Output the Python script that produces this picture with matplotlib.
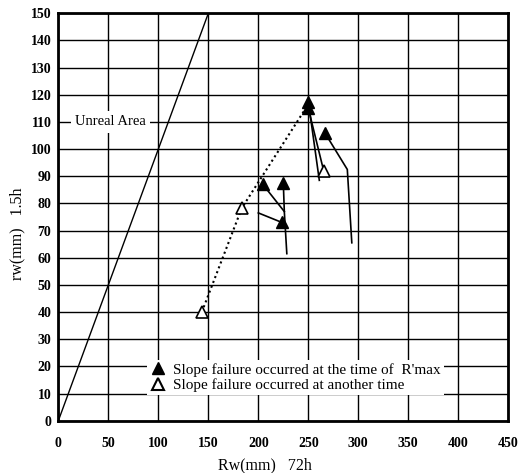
import matplotlib
matplotlib.use("Agg")
import matplotlib.pyplot as plt
from matplotlib.lines import Line2D

plt.rcParams['font.family'] = ['Liberation Serif', 'DejaVu Serif']

# Trajectories (Rw 72h, rw 1.5h); last point carries the marker
traj_a_x = [200.0, 223.5]
traj_a_y = [76.5, 73.0]
traj_b_x = [228.5, 226.0, 225.0]
traj_b_y = [61.5, 77.0, 87.5]
traj_c_x = [226.0, 204.5]
traj_c_y = [77.0, 87.0]
traj_d_x = [261.0, 250.0]
traj_d_y = [88.5, 117.5]
traj_e_x = [293.5, 289.0, 266.5]
traj_e_y = [65.5, 92.5, 106.0]
traj_f_x = [265.5, 250.0]
traj_f_y = [91.8, 115.0]

# dotted line through hollow triangles
dot_x = [143.5, 183.5, 250.0]
dot_y = [40.0, 78.3, 116.5]

filled_x = [223.5, 225.0, 204.5, 250.0, 266.5, 250.0]
filled_y = [73.0, 87.5, 87.0, 117.5, 106.0, 115.0]
hollow_x = [143.5, 183.5, 265.5]
hollow_y = [40.0, 78.3, 91.8]

diag_x = [0, 150]
diag_y = [0, 150]

xticks = [0, 50, 100, 150, 200, 250, 300, 350, 400, 450]
yticks = list(range(0, 151, 10))

fig = plt.figure(figsize=(5.21, 4.73), dpi=100)
ax = fig.add_axes([0.112, 0.1106, 0.8636, 0.8613])
ax.set_xlim(0, 450)
ax.set_ylim(0, 150)
ax.set_xticks(xticks)
ax.set_yticks(yticks)
ax.tick_params(length=0, labelsize=10)
ax.tick_params(axis='x', pad=12)
ax.tick_params(axis='y', pad=5)
for lab in ax.get_xticklabels() + ax.get_yticklabels():
    lab.set_fontweight('bold')
ax.grid(True, color='black', linewidth=1.0)
ax.set_axisbelow(True)
for s in ax.spines.values():
    s.set_linewidth(2.0)

ax.plot(diag_x, diag_y, color='black', linewidth=1.0, zorder=3)
ax.plot(dot_x, dot_y, color='black', linestyle=(0, (1, 1.5)), linewidth=1.5, zorder=3)
for xs, ys in [(traj_a_x, traj_a_y), (traj_b_x, traj_b_y), (traj_c_x, traj_c_y),
               (traj_d_x, traj_d_y), (traj_e_x, traj_e_y), (traj_f_x, traj_f_y)]:
    ax.plot(xs, ys, color='black', linewidth=1.2, zorder=4)
ax.plot(filled_x, filled_y, linestyle='none', marker='^', markersize=8,
        color='black', zorder=5)
ax.plot(hollow_x, hollow_y, linestyle='none', marker='^', markersize=8,
        markerfacecolor='white', markeredgecolor='black', markeredgewidth=1.2, zorder=5)

ax.text(52, 110, 'Unreal Area', fontsize=10.5, ha='center', va='center', zorder=6,
        bbox=dict(facecolor='white', edgecolor='none', pad=3))

handles = [Line2D([], [], linestyle='none', marker='^', markersize=9, color='black'),
           Line2D([], [], linestyle='none', marker='^', markersize=9,
                  markerfacecolor='white', markeredgecolor='black', markeredgewidth=1.5)]
labels = ["Slope failure occurred at the time of  R'max",
          "Slope failure occurred at another time"]
leg = ax.legend(handles, labels, loc='lower left', bbox_to_anchor=(0.197, 0.062),
                fontsize=11, frameon=True, facecolor='white', edgecolor='none',
                framealpha=1, handletextpad=0.5, handlelength=1.0, borderpad=0.2,
                labelspacing=0.12, borderaxespad=0, fancybox=False)
leg.set_zorder(7)

ax.set_xlabel('Rw(mm)   72h', fontsize=11.5)
ax.xaxis.set_label_coords(0.46, -0.089)
ax.set_ylabel('rw(mm)   1.5h', fontsize=11.5)
ax.yaxis.set_label_coords(-0.074, 0.46)

fig.savefig('out.png', dpi=100)
